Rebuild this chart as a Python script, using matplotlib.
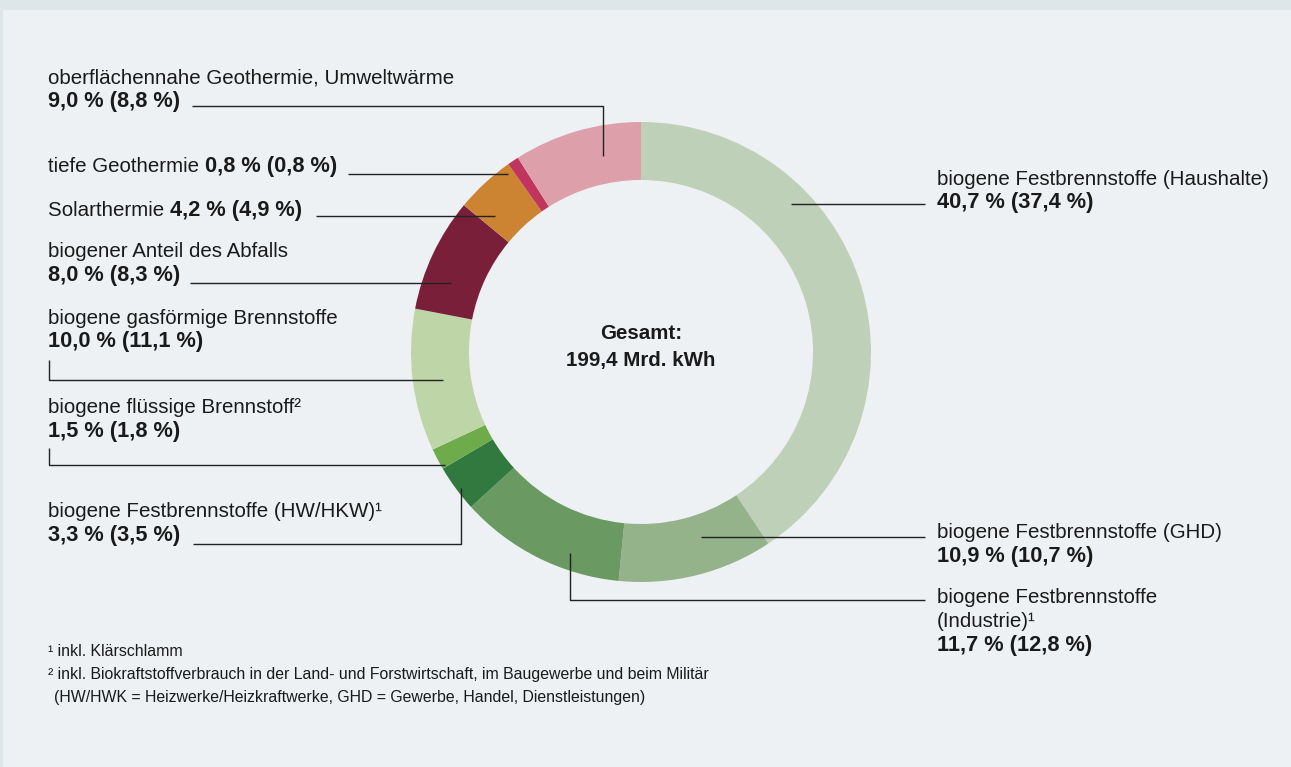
#!/usr/bin/env python3

import matplotlib
matplotlib.use('Agg')
import matplotlib.pyplot as plt
from matplotlib.patches import Rectangle

# shares 2023 (in brackets: previous year), clockwise from the top
labels = ['biogene Festbrennstoffe (Haushalte)', 'biogene Festbrennstoffe (GHD)',
          'biogene Festbrennstoffe (Industrie)', 'biogene Festbrennstoffe (HW/HKW)',
          'biogene flüssige Brennstoff', 'biogene gasförmige Brennstoffe',
          'biogener Anteil des Abfalls', 'Solarthermie', 'tiefe Geothermie',
          'oberflächennahe Geothermie, Umweltwärme']
share = [40.7, 10.9, 11.7, 3.3, 1.5, 10.0, 8.0, 4.2, 0.8, 9.0]
share_prev = [37.4, 10.7, 12.8, 3.5, 1.8, 11.1, 8.3, 4.9, 0.8, 8.8]
colors = ['#bfd0b8', '#95b38a', '#6a9962', '#31793f', '#6dab4b',
          '#bed6a7', '#7a1f39', '#cc8432', '#c0355e', '#dda0aa']
total_text = '199,4 Mrd. kWh'

W, H = 1291, 767
FONT = ['Liberation Sans Narrow', 'Liberation Sans', 'DejaVu Sans']
plt.rcParams['font.family'] = FONT
FS = 14.8
FSB = 15.7   # bold figures run a bit wider in the original
TXT = '#1a1a1a'


def Y(y):
    # pixel row (from top) -> data y
    return H - y


def fmt(v):
    return ('%.1f' % v).replace('.', ',')


def pct(i):
    return '%s %% (%s %%)' % (fmt(share[i]), fmt(share_prev[i]))


fig = plt.figure(figsize=(W / 100, H / 100), dpi=100, facecolor='#dfe6ea')
ax = fig.add_axes([0, 0, 1, 1])
ax.add_patch(Rectangle((3, 0), W - 3, H - 10, facecolor='#edf1f4',
                       edgecolor='none', zorder=0))

ax.pie(share, colors=colors, startangle=90, counterclock=False,
       center=(641, Y(352)), radius=230, frame=True,
       wedgeprops=dict(width=58, edgecolor='none', linewidth=0))
ax.set_xlim(0, W)
ax.set_ylim(0, H)
ax.set_aspect('equal')
ax.axis('off')

renderer = fig.canvas.get_renderer()


def line_parts(x, yb, parts, size=FS):
    # parts: list of (text, bold) drawn one after another on one baseline
    for s, bold in parts:
        t = ax.text(x, Y(yb), s, fontsize=FSB if bold else size, color=TXT,
                    va='baseline', ha='left',
                    fontweight='bold' if bold else 'normal')
        bb = t.get_window_extent(renderer=renderer)
        x = x + bb.width


def leader(pts):
    xs = [p[0] for p in pts]
    ys = [Y(p[1]) for p in pts]
    ax.plot(xs, ys, color='#222222', lw=1.0, solid_capstyle='butt')


LX, RX = 48, 937

# left side labels
line_parts(LX, 83, [(labels[9], False)])
line_parts(LX, 107, [(pct(9), True)])
leader([(192, 106), (603, 106), (603, 156)])

line_parts(LX, 172, [(labels[8] + ' ', False), (pct(8), True)])
leader([(348, 174), (508, 174)])

line_parts(LX, 216, [(labels[7] + ' ', False), (pct(7), True)])
leader([(316, 216), (495, 216)])

line_parts(LX, 257, [(labels[6], False)])
line_parts(LX, 281, [(pct(6), True)])
leader([(190, 283), (451, 283)])

line_parts(LX, 324, [(labels[5], False)])
line_parts(LX, 347, [(pct(5), True)])
leader([(49, 360), (49, 380), (443, 380)])

line_parts(LX, 413, [(labels[4] + '²', False)])
line_parts(LX, 437, [(pct(4), True)])
leader([(49, 448), (49, 465), (445, 465)])

line_parts(LX, 517, [(labels[3] + '¹', False)])
line_parts(LX, 541, [(pct(3), True)])
leader([(193, 544), (461, 544), (461, 488)])

# right side labels
line_parts(RX, 185, [(labels[0], False)])
line_parts(RX, 208, [(pct(0), True)])
leader([(791, 204), (925, 204)])

line_parts(RX, 538, [(labels[1], False)])
line_parts(RX, 562, [(pct(1), True)])
leader([(701, 537), (925, 537)])

line_parts(RX, 603, [('biogene Festbrennstoffe', False)])
line_parts(RX, 627, [('(Industrie)¹', False)])
line_parts(RX, 651, [(pct(2), True)])
leader([(570, 553), (570, 600), (925, 600)])

# centre
ax.text(641, Y(339), 'Gesamt:', fontsize=FS, fontweight='bold', color=TXT,
        ha='center', va='baseline')
ax.text(641, Y(366), total_text, fontsize=FS, fontweight='bold', color=TXT,
        ha='center', va='baseline')

# footnotes
FN = 11.4
line_parts(LX, 656, [('¹ inkl. Klärschlamm', False)], size=FN)
line_parts(LX, 679, [('² inkl. Biokraftstoffverbrauch in der Land- und Forstwirtschaft, '
                      'im Baugewerbe und beim Militär', False)], size=FN)
line_parts(LX + 6, 702, [('(HW/HWK = Heizwerke/Heizkraftwerke, GHD = Gewerbe, Handel, '
                          'Dienstleistungen)', False)], size=FN)

fig.savefig('out.png', dpi=100, facecolor=fig.get_facecolor())
